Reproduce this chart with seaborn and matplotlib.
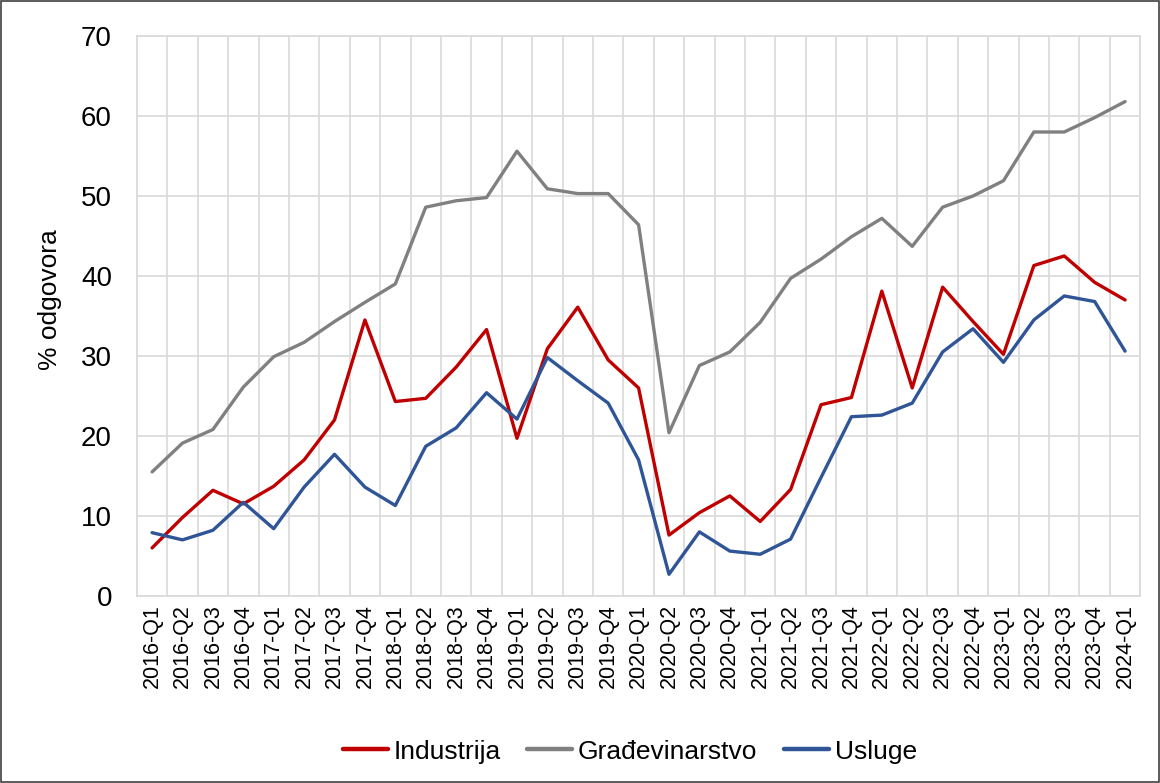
import matplotlib
matplotlib.use("Agg")
import matplotlib.pyplot as plt
import numpy as np
import pandas as pd
import seaborn as sns

# kvartali 2016-Q1 .. 2024-Q1
kvartali = [f"{g}-Q{q}" for g in range(2016, 2025) for q in range(1, 5)][:33]

industrija = [6.0, 9.8, 13.2, 11.5, 13.7, 17.0, 22.0, 34.5, 24.3, 24.7, 28.6,
              33.3, 19.7, 30.9, 36.1, 29.5, 26.0, 7.6, 10.4, 12.5, 9.3, 13.3,
              23.9, 24.8, 38.1, 26.0, 38.6, 34.3, 30.2, 41.3, 42.5, 39.2, 37.0]
gradjevinarstvo = [15.5, 19.1, 20.8, 26.1, 29.9, 31.7, 34.3, 36.7, 39.0, 48.6, 49.4,
                   49.8, 55.6, 50.9, 50.3, 50.3, 46.4, 20.4, 28.8, 30.5, 34.2, 39.7,
                   42.1, 44.9, 47.2, 43.7, 48.6, 50.0, 51.9, 58.0, 58.0, 59.8, 61.8]
usluge = [7.9, 7.0, 8.2, 11.7, 8.4, 13.6, 17.7, 13.6, 11.3, 18.7, 21.0,
          25.4, 22.1, 29.8, 26.9, 24.1, 17.0, 2.7, 8.0, 5.6, 5.2, 7.1,
          14.8, 22.4, 22.6, 24.1, 30.5, 33.4, 29.2, 34.5, 37.5, 36.8, 30.6]

serije = ["Industrija", "Građevinarstvo", "Usluge"]
boje = ["#C00000", "#808080", "#2F5597"]

df = pd.DataFrame({"kvartal": kvartali, "Industrija": industrija,
                   "Građevinarstvo": gradjevinarstvo, "Usluge": usluge})
df_long = df.melt(id_vars="kvartal", var_name="sektor", value_name="vrijednost")

sns.set_style("white")
plt.rcParams["font.family"] = ["Liberation Sans", "DejaVu Sans"]
plt.rcParams["text.color"] = "black"

fig = plt.figure(figsize=(11.6, 7.83), dpi=100)
ax = fig.add_axes([0.118, 0.239, 0.865, 0.715])

sns.lineplot(data=df_long, x="kvartal", y="vrijednost", hue="sektor",
             hue_order=serije, palette=boje, linewidth=2.4, ax=ax,
             sort=False, legend=False)

n = len(kvartali)
ax.set_xlim(-0.5, n - 0.5)
ax.set_ylim(0, 70)
ax.set_yticks(np.arange(0, 71, 10))
ax.set_xticks(range(n))
ax.set_xticklabels(kvartali, rotation=90, fontsize=15.5)
ax.set_xticks(np.arange(-0.5, n, 1), minor=True)
ax.tick_params(axis="y", labelsize=20, length=0, pad=18, labelcolor="black")
ax.tick_params(axis="x", which="both", length=0, pad=6, labelcolor="black")
ax.grid(axis="y", color="#d9d9d9", linewidth=1.2)
ax.grid(axis="x", which="minor", color="#d9d9d9", linewidth=1.2)
ax.set_axisbelow(True)
for s in ax.spines.values():
    s.set_color("#d9d9d9")
    s.set_linewidth(1.2)

ax.set_xlabel("")
ax.set_ylabel("% odgovora", fontsize=19, color="black")
ax.yaxis.set_label_coords(-0.075, 0.53)

handles = [plt.Line2D([], [], color=c, linewidth=3.2) for c in boje]
fig.legend(handles, serije, loc="center", bbox_to_anchor=(0.543, 0.04),
           ncol=3, frameon=False, fontsize=19, handlelength=1.7,
           handletextpad=0.22, columnspacing=1.0)

# okvir oko cijele slike
fig.patches.append(plt.Rectangle((0.001, 0.001), 0.998, 0.998, transform=fig.transFigure,
                                 fill=False, edgecolor="#404040", linewidth=1.2))

fig.savefig("out.png", dpi=100)
